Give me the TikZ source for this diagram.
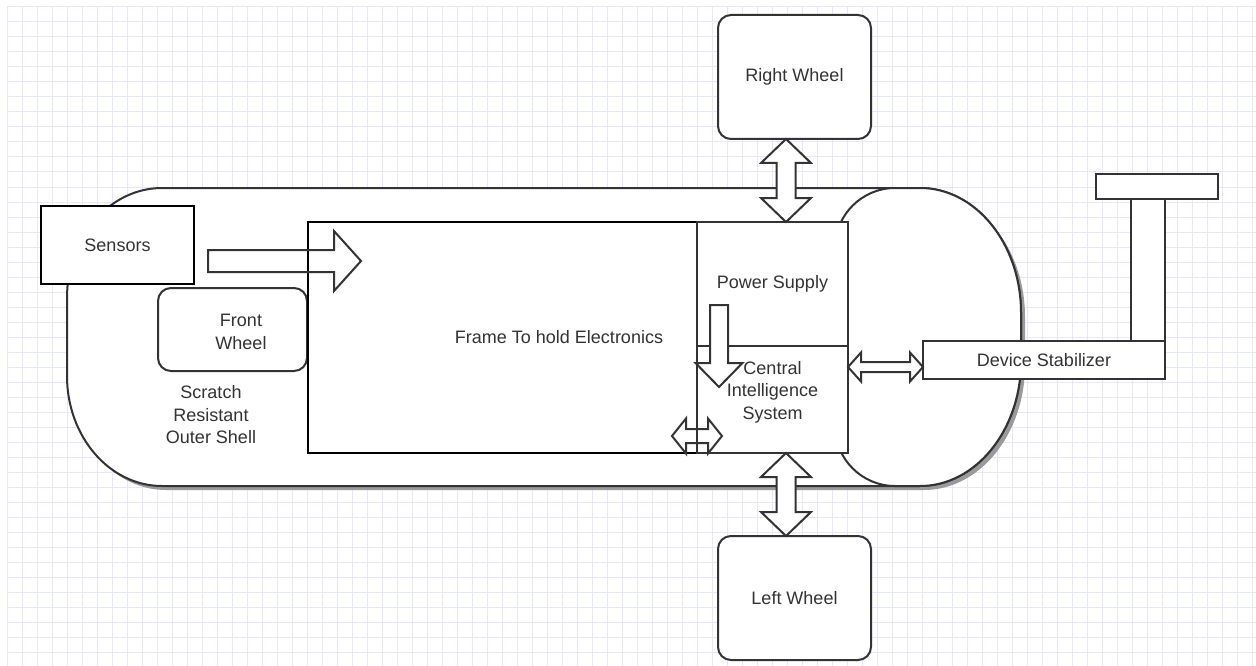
\documentclass[tikz,border=0pt]{standalone}
\usepackage{fontspec}
\setmainfont{Liberation Sans}
\usetikzlibrary{calc, positioning}
\definecolor{cline}{HTML}{333333}
\definecolor{ctext}{HTML}{333333}
\definecolor{cgrid}{HTML}{E6E6FF}
\definecolor{cshadow}{HTML}{9A9A9A}
\newcommand{\shellpath}{(162,188) -- (920,188) .. controls (975.8,188) and (1021,244) .. (1021,313) -- (1021,361) .. controls (1021,430) and (975.8,486) .. (920,486) -- (162,486) .. controls (109.6,486) and (67,436.7) .. (67,376) -- (67,298) .. controls (67,237.3) and (109.6,188) .. (162,188) -- cycle}
\newcommand{\nosepath}{(895,188) -- (920,188) .. controls (975.8,188) and (1021,244) .. (1021,313) -- (1021,361) .. controls (1021,430) and (975.8,486) .. (920,486) -- (895,486) .. controls (862,486) and (835,459) .. (835,426) -- (835,248) .. controls (835,215) and (862,188) .. (895,188) -- cycle}
\tikzset{
  blk/.style={draw=cline, fill=white, line width=2pt, inner sep=0pt, outer sep=0pt, text=ctext, align=center},
  heavy/.style={blk, draw=black, line width=2.5pt},
  wheel/.style={blk, rounded corners=13pt},
  lbl/.style={text=ctext, align=center},
  shell/.style={draw=cline, fill=white, line width=2pt},
  flexarrow/.style n args={3}{draw=cline, line width=2pt, to path={
      ($(\tikztotarget)!#3!(\tikztostart)$) coordinate (fahead)
      ($(\tikztostart)!#1!90:(\tikztotarget)$)
      -- ($(fahead)!#1!90:(\tikztotarget)$)
      -- ($(fahead)!#2!90:(\tikztotarget)$)
      -- (\tikztotarget)
      -- ($(fahead)!#2!-90:(\tikztotarget)$)
      -- ($(fahead)!#1!-90:(\tikztotarget)$)
      -- ($(\tikztostart)!#1!-90:(\tikztotarget)$)
      -- cycle}},
  flexboth/.style n args={3}{draw=cline, line width=2pt, to path={
      ($(\tikztostart)!#3!(\tikztotarget)$) coordinate (faone)
      ($(\tikztotarget)!#3!(\tikztostart)$) coordinate (fatwo)
      (\tikztostart)
      -- ($(faone)!#2!90:(\tikztotarget)$)
      -- ($(faone)!#1!90:(\tikztotarget)$)
      -- ($(fatwo)!#1!90:(\tikztotarget)$)
      -- ($(fatwo)!#2!90:(\tikztotarget)$)
      -- (\tikztotarget)
      -- ($(fatwo)!#2!-90:(\tikztotarget)$)
      -- ($(fatwo)!#1!-90:(\tikztotarget)$)
      -- ($(faone)!#1!-90:(\tikztotarget)$)
      -- ($(faone)!#2!-90:(\tikztotarget)$)
      -- cycle}},
}

\begin{document}
\begin{tikzpicture}[x=1pt, y=-1pt, every node/.append style={font=\fontsize{18}{22.5}\selectfont}]
  \useasboundingbox (0,0) rectangle (1256,666);
  \fill[white] (0,0) rectangle (1256,666);
  % grid paper
  \foreach \gx in {7,22,...,1252} \draw[cgrid, line width=1pt] (\gx,7) -- (\gx,666);
  \foreach \gy in {7,22,...,662} \draw[cgrid, line width=1pt] (7,\gy) -- (1256,\gy);
  % outer shell and nose
  \fill[cshadow, shift={(4,4)}] \shellpath;
  \path[shell] \shellpath;
  \path[shell] \nosepath;
  \node[lbl] (shelltext) at (211,415) {Scratch\\Resistant\\Outer Shell};
  % parts inside the shell
  \node[heavy, minimum width=153pt, minimum height=78pt] (sensors) at (117.5,245) {Sensors};
  \node[wheel, minimum width=149pt, minimum height=83pt, label={[lbl, xshift=8.5pt, yshift=-2.5pt]center:Front\\Wheel}] (fwheel) at (232.5,329.5) {};
  \node[heavy, minimum width=389pt, minimum height=231pt, label={[lbl, xshift=56.5pt]center:Frame To hold Electronics}] (frame) at (502.5,337.5) {};
  \node[blk, minimum width=151pt, minimum height=124pt] (power) at (772.5,284) {Power Supply};
  \node[blk, minimum width=151pt, minimum height=107pt, below=0pt of power, label={[lbl, yshift=7.5pt]center:Central\\Intelligence\\System}] (central) {};
  % wheels and stabilizer
  \node[wheel, minimum width=153pt, minimum height=124pt] (rwheel) at (794.5,77) {Right Wheel};
  \node[wheel, minimum width=153pt, minimum height=124pt] (lwheel) at (794.5,598) {Left Wheel};
  \node[blk, minimum width=34pt, minimum height=142pt] (post) at (1148,270) {};
  \node[blk, minimum width=122pt, minimum height=25pt] (bar) at (1157,186.5) {};
  \node[blk, minimum width=242pt, minimum height=38pt] (stabilizer) at (1044,360) {Device Stabilizer};
  % arrow ends
  \coordinate (sens-out) at ($(sensors.east)+(14,16)$);
  \coordinate (frame-in) at ($(frame.north west)+(53,39)$);
  \coordinate (rw-out) at ($(rwheel.south)+(-8.5,0)$);
  \coordinate (ps-in) at ($(power.north)+(13.5,0)$);
  \coordinate (ci-out) at ($(central.south)+(13.5,0)$);
  \coordinate (lw-in) at ($(lwheel.north)+(-8.5,0)$);
  \coordinate (ci-side) at ($(central.east)+(0,-32.5)$);
  \coordinate (ds-side) at ($(stabilizer.west)+(0,7)$);
  \coordinate (ps-out) at ($(power.south west)+(22,-41)$);
  \coordinate (ci-in) at ($(central.north west)+(22,41)$);
  \coordinate (fr-link) at ($(frame.south east)+(-25,-17)$);
  \coordinate (ci-link) at ($(central.south west)+(25,-17)$);
  % block arrows
  \draw[flexarrow={11pt}{30pt}{27pt}] (sens-out) to (frame-in);
  \draw[flexboth={9.5pt}{25pt}{24pt}, fill=white] (rw-out) to (ps-in);
  \draw[flexboth={9.5pt}{25pt}{24pt}, fill=white] (ci-out) to (lw-in);
  \draw[flexboth={5pt}{14.5pt}{13pt}, fill=white] (ci-side) to (ds-side);
  \draw[flexarrow={9pt}{23.5pt}{24pt}, fill=white] (ps-out) to (ci-in);
  \draw[flexboth={7pt}{17.5pt}{14pt}] (fr-link) to (ci-link);
\end{tikzpicture}
\end{document}
